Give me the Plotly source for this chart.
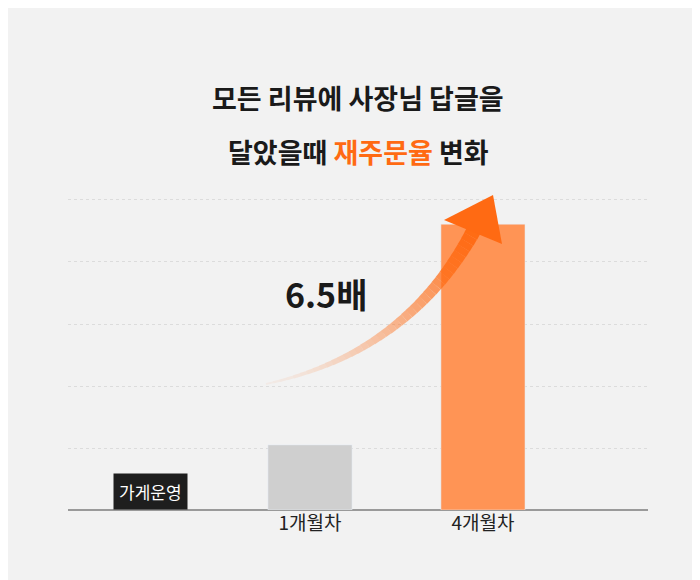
import plotly.graph_objects as go
import numpy as np

categories = ["1개월차", "4개월차"]
values = [1.05, 4.61]
bar_colors = ["#cfcfcf", "#ff9455"]
grid_vals = [1, 2, 3, 4, 5]

FONT = "Noto Sans CJK KR"
L, R, T, B, H, W = 60, 60, 160, 78, 580, 700
xr = [-1.399, 1.954]
yr = [0, 5.516]

def px2d(px, py):
    x = xr[0] + (px - L) / (W - L - R) * (xr[1] - xr[0])
    y = yr[0] + (H - B - py) / (H - T - B) * (yr[1] - yr[0])
    return x, y

def px2p(px, py):
    return (px - L) / (W - L - R), (H - B - py) / (H - T - B)

fig = go.Figure()
fig.add_trace(go.Bar(x=[0, 1], y=values, marker_color=bar_colors, width=0.486,
                     showlegend=False, hoverinfo="skip"))

p0, p1, p2 = np.array([258, 376]), np.array([400, 345]), np.array([466, 222])
n = 40
ts = np.linspace(0, 1, n + 1)
pts = [(1 - t) ** 2 * p0 + 2 * (1 - t) * t * p1 + t ** 2 * p2 for t in ts]
for i in range(n):
    t = ts[i]
    a = 0.05 + 0.95 * t ** 1.3
    w = 2 + 13 * t
    (xa, ya), (xb, yb) = px2d(*pts[i]), px2d(*pts[i + 1])
    fig.add_trace(go.Scatter(x=[xa, xb], y=[ya, yb], mode="lines",
                             line=dict(color=f"rgba(255,106,19,{a:.3f})", width=w),
                             showlegend=False, hoverinfo="skip"))
head = [px2d(485, 187), px2d(436, 212), px2d(494, 236)]
fig.add_shape(type="path", xref="x", yref="y",
              path="M {} {} L {} {} L {} {} Z".format(*[c for p in head for c in p]),
              fillcolor="#ff6a13", line=dict(width=0))

fig.update_layout(
    width=W, height=H, margin=dict(l=L, r=R, t=T, b=B),
    paper_bgcolor="#f2f2f2", plot_bgcolor="#f2f2f2",
    font=dict(family=FONT, color="#222"),
    xaxis=dict(range=xr, tickvals=[0, 1], ticktext=categories, showgrid=False,
               zeroline=False, showline=False,
               tickfont=dict(size=19, color="#222", family=FONT), ticks=""),
    yaxis=dict(range=yr, tickvals=grid_vals, showticklabels=False, gridcolor="#dcdcdc",
               griddash="dot", gridwidth=1, zeroline=True, zerolinecolor="#9a9a9a",
               zerolinewidth=2),
)
for py, text in [(68, "<b>모든 리뷰에 사장님 답글을</b>"),
                 (122, "<b>달았을때 <span style='color:#ff6a13'>재주문율</span> 변화</b>")]:
    x, y = px2p(350, py)
    fig.add_annotation(x=x, y=y, xref="paper", yref="paper", text=text, showarrow=False,
                       font=dict(size=27, color="#1a1a1a", family=FONT))
x, y = px2d(318, 285)
fig.add_annotation(x=x, y=y, text="<b>6.5배</b>", showarrow=False,
                   font=dict(size=34, color="#1a1a1a", family=FONT))
x, y = px2p(105, 502)
fig.add_annotation(x=x, y=y, xref="paper", yref="paper", text="가게운영", showarrow=False,
                   bgcolor="#1e1e1e", borderpad=5,
                   font=dict(size=17, color="white", family=FONT))
fig.write_html("out.html")
